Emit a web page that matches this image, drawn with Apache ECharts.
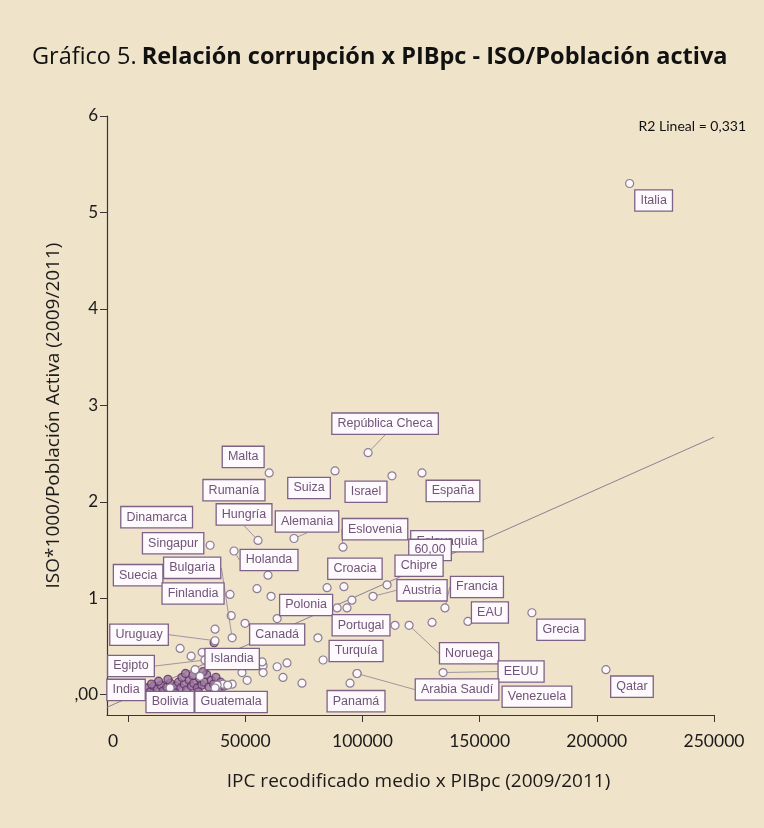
<!DOCTYPE html>
<html>
<head>
<meta charset="utf-8">
<title>Gráfico 5</title>
<script src="https://cdn.jsdelivr.net/npm/echarts@6/dist/echarts.min.js"></script>
<style>
html, body { margin: 0; padding: 0; background: #efe3ca; }
#chart { width: 764px; height: 828px; }
</style>
</head>
<body>
<div id="chart"></div>
<script>
// ticks
const xTicks = [0, 50000, 100000, 150000, 200000, 250000];
const yTicks = [0, 1, 2, 3, 4, 5, 6];

// labelled countries
const paisNames = ['Italia', 'República Checa', 'Malta', 'Rumanía', 'Suiza', 'Israel', 'España',
  'Dinamarca', 'Hungría', 'Alemania', 'Eslovenia', 'Singapur', 'Eslovaquia', '60,00', 'Holanda',
  'Suecia', 'Bulgaria', 'Croacia', 'Chipre', 'Finlandia', 'Austria', 'Francia', 'Polonia', 'EAU',
  'Portugal', 'Grecia', 'Uruguay', 'Canadá', 'Turquía', 'Islandia', 'Noruega', 'Egipto', 'EEUU',
  'Arabia Saudí', 'India', 'Venezuela', 'Qatar', 'Panamá', 'Bolivia', 'Guatemala'];
const paisX = [214000, 102400, 60200, 52000, 88300, 112600, 125400,
  22000, 55450, 70800, 91700, 35000, 141600, 126700, 45200,
  9400, 44400, 92100, 110500, 43500, 104500, 135200, 73400, 145000,
  113900, 172300, 37100, 63600, 83200, 57200, 119900, 32800, 134400,
  97700, 5100, 167200, 203900, 94700, 17900, 37100];
const paisY = [5.30, 2.51, 2.30, 2.09, 2.32, 2.27, 2.30,
  1.81, 1.60, 1.62, 1.53, 1.55, 1.55, 1.45, 1.49,
  1.24, 0.59, 1.12, 1.14, 1.04, 1.02, 0.90, 0.91, 0.76,
  0.72, 0.85, 0.56, 0.79, 0.36, 0.34, 0.72, 0.36, 0.23,
  0.22, 0.05, 0.00, 0.26, 0.12, 0.07, 0.07];

// unlabelled countries
const otrosX = [55000, 61000, 59700, 44000, 49900, 37100, 22200, 26900, 31600, 81000,
  84900, 89200, 93400, 95500, 57600, 63600, 67800, 57600, 66100, 74200,
  50800, 48600, 44400, 40500, 38000, 42500, 129700, 28600, 30700, 97700];
const otrosY = [1.10, 1.02, 1.24, 0.82, 0.74, 0.68, 0.48, 0.40, 0.44, 0.59,
  1.11, 0.90, 0.90, 0.98, 0.30, 0.29, 0.33, 0.23, 0.18, 0.12,
  0.15, 0.23, 0.11, 0.11, 0.10, 0.10, 0.75, 0.26, 0.19, 0.22];

// dense group near the origin
const grupoX = [6000, 8000, 9500, 11000, 12500, 14000, 15000, 16500, 18000, 19000,
  20500, 21500, 22500, 24000, 25000, 26000, 27000, 28000, 29500, 30500,
  31500, 32500, 33500, 34500, 35500, 36500, 37500, 38500, 39500, 41000,
  13000, 17000, 23000, 27500, 32000, 36700, 10000, 20000, 30000, 24500];
const grupoY = [0.04, 0.07, 0.03, 0.09, 0.06, 0.10, 0.04, 0.08, 0.12, 0.05,
  0.09, 0.13, 0.07, 0.11, 0.05, 0.15, 0.09, 0.12, 0.07, 0.17,
  0.10, 0.13, 0.21, 0.08, 0.15, 0.11, 0.18, 0.06, 0.13, 0.09,
  0.14, 0.16, 0.18, 0.20, 0.24, 0.54, 0.11, 0.02, 0.03, 0.22];

// fit line (R2 lineal = 0,331)
const fitX = [-9000, 250000];
const fitY = [-0.13, 2.67];

// label placement (pixel shift from the point) and which ones carry a guide line
const labelShift = {
  'Italia': [24, 17], 'República Checa': [17, -29], 'Malta': [-26, -16], 'Rumanía': [-16, -3],
  'Suiza': [-26, 17], 'Israel': [-26, 16], 'España': [31, 18], 'Dinamarca': [-23, -3],
  'Hungría': [-14, -26], 'Alemania': [13, -17], 'Eslovenia': [32, -18], 'Singapur': [-37, -2],
  'Eslovaquia': [-13, -4], '60,00': [5, -5], 'Holanda': [35, 9], 'Suecia': [-12, 0],
  'Bulgaria': [-40, -70], 'Croacia': [11, -18], 'Chipre': [32, -19], 'Finlandia': [-37, -1],
  'Austria': [49, -6], 'Francia': [32, -21], 'Polonia': [6, -2], 'EAU': [22, -9],
  'Portugal': [-34, 0], 'Grecia': [29, 17], 'Uruguay': [-76, -6], 'Canadá': [0, 16],
  'Turquía': [33, -9], 'Islandia': [-30, -3], 'Noruega': [60, 28], 'Egipto': [-74, 6],
  'EEUU': [78, -1], 'Arabia Saudí': [100, 16], 'India': [-14, 0], 'Venezuela': [17, 2],
  'Qatar': [26, 17], 'Panamá': [6, 18], 'Bolivia': [0, 14], 'Guatemala': [16, 14]
};
const conGuia = ['República Checa', 'Hungría', 'Alemania', 'Eslovenia', 'Holanda', 'Bulgaria',
  'Austria', 'Francia', 'Uruguay', 'Islandia', 'Noruega', 'Egipto', 'EEUU', 'Arabia Saudí'];

const colors = {
  bg: '#efe3ca',
  axis: '#3b3535',
  text: '#1c1a1a',
  point: '#8d7d92',
  pointFill: '#fcf8fc',
  group: '#5c3064',
  groupFill: '#9c78a1',
  box: '#7e6286',
  boxText: '#6f5577',
  guide: '#8f7f94'
};

const chart = echarts.init(document.getElementById('chart'));

const paisData = paisNames.map((name, i) => {
  const item = { name: name, value: [paisX[i], paisY[i]] };
  if (conGuia.includes(name)) item.labelLine = { show: true };
  return item;
});

const option = {
  backgroundColor: colors.bg,
  animation: false,
  title: {
    left: 27,
    top: 40,
    text: '{n|Gráfico 5.} {b|Relación corrupción x PIBpc - ISO/Población activa}',
    textStyle: {
      rich: {
        n: { fontFamily: 'Open Sans', fontSize: 23.5, fontWeight: 'normal', color: '#111' },
        b: { fontFamily: 'Open Sans', fontSize: 23.5, fontWeight: 'bold', color: '#111' }
      }
    }
  },
  graphic: [{
    type: 'text',
    right: 18,
    top: 119,
    style: { text: 'R2 Lineal = 0,331', fontFamily: 'Lato', fontSize: 14, fill: '#111' }
  }],
  grid: { left: 107, right: 50, top: 116, bottom: 113 },
  xAxis: {
    type: 'value',
    min: -9000,
    max: 250000,
    name: 'IPC recodificado medio x PIBpc (2009/2011)',
    nameLocation: 'middle',
    nameGap: 57,
    nameTextStyle: { fontFamily: 'Open Sans', fontSize: 19, color: colors.text, padding: [0, 0, 0, 16] },
    splitLine: { show: false },
    axisLine: { onZero: false, lineStyle: { color: colors.axis, width: 1.2 } },
    axisTick: { show: true, length: 7, customValues: xTicks, lineStyle: { color: colors.axis } },
    axisLabel: {
      customValues: xTicks,
      margin: 17,
      fontFamily: 'Lato',
      fontSize: 17.5,
      color: colors.text,
      formatter: v => v === 0 ? '{z|0}' : String(v),
      rich: { z: { fontFamily: 'Lato', fontSize: 17.5, color: colors.text, padding: [0, 30, 0, 0] } }
    }
  },
  yAxis: {
    type: 'value',
    min: -0.21,
    max: 6,
    name: 'ISO*1000/Población Activa (2009/2011)',
    nameLocation: 'middle',
    nameGap: 29,
    nameTextStyle: { fontFamily: 'Open Sans', fontSize: 19, color: colors.text },
    splitLine: { show: false },
    axisLine: { show: true, onZero: false, lineStyle: { color: colors.axis, width: 1.2 } },
    axisTick: { show: true, length: 7, customValues: yTicks, lineStyle: { color: colors.axis } },
    axisLabel: {
      customValues: yTicks,
      margin: 9,
      fontFamily: 'Lato',
      fontSize: 17,
      color: colors.text,
      formatter: v => v === 0 ? ',00' : String(v)
    }
  },
  series: [
    {
      type: 'line',
      data: fitX.map((x, i) => [x, fitY[i]]),
      showSymbol: false,
      silent: true,
      lineStyle: { color: colors.guide, width: 1 },
      z: 1
    },
    {
      type: 'scatter',
      data: grupoX.map((x, i) => [x, grupoY[i]]),
      symbolSize: 8,
      itemStyle: { color: colors.groupFill, borderColor: colors.group, borderWidth: 1.3 },
      z: 2
    },
    {
      type: 'scatter',
      data: otrosX.map((x, i) => [x, otrosY[i]]),
      symbolSize: 8,
      itemStyle: { color: colors.pointFill, borderColor: colors.point, borderWidth: 1.2, opacity: 1 },
      z: 2
    },
    {
      type: 'scatter',
      data: paisData,
      symbolSize: 8,
      itemStyle: { color: colors.pointFill, borderColor: colors.point, borderWidth: 1.2, opacity: 1 },
      label: {
        show: true,
        position: 'inside',
        formatter: '{b}',
        fontFamily: 'Liberation Sans',
        fontSize: 12.5,
        color: colors.boxText,
        backgroundColor: '#fdf9fd',
        borderColor: colors.box,
        borderWidth: 1.3,
        padding: [4, 5, 3, 5]
      },
      labelLine: {
        show: false,
        lineStyle: { color: colors.guide, width: 0.8 }
      },
      labelLayout: function (params) {
        const shift = labelShift[paisNames[params.dataIndex]] || [0, 0];
        return { dx: shift[0], dy: shift[1] };
      },
      z: 3
    }
  ]
};

chart.setOption(option);
</script>
</body>
</html>
